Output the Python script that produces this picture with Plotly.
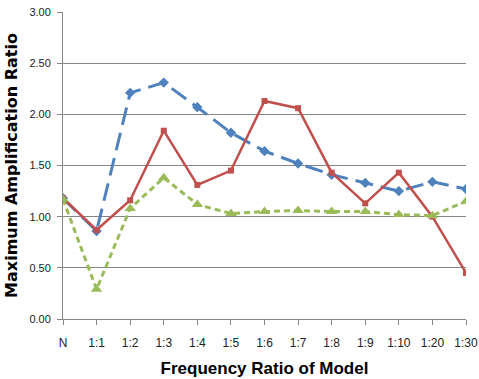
import plotly.graph_objects as go

categories = ["N", "1:1", "1:2", "1:3", "1:4", "1:5", "1:6", "1:7", "1:8", "1:9", "1:10", "1:20", "1:30"]
blue_vals = [1.18, 0.86, 2.21, 2.31, 2.07, 1.82, 1.64, 1.52, 1.41, 1.33, 1.25, 1.34, 1.27]
red_vals = [1.18, 0.87, 1.16, 1.84, 1.31, 1.45, 2.13, 2.06, 1.43, 1.13, 1.43, 1.00, 0.45]
green_vals = [1.17, 0.29, 1.08, 1.38, 1.12, 1.03, 1.05, 1.06, 1.05, 1.05, 1.02, 1.01, 1.15]
y_ticks = [0, 0.5, 1.0, 1.5, 2.0, 2.5, 3.0]

fig = go.Figure()
fig.add_trace(go.Scatter(x=categories, y=blue_vals, mode="lines+markers",
                         line=dict(color="#4F81BD", width=3, dash="18px,8px"),
                         marker=dict(symbol="diamond", size=8, color="#4F81BD")))
fig.add_trace(go.Scatter(x=categories, y=red_vals, mode="lines+markers",
                         line=dict(color="#C0504D", width=2.5),
                         marker=dict(symbol="square", size=6, color="#C0504D")))
fig.add_trace(go.Scatter(x=categories, y=green_vals, mode="lines+markers",
                         line=dict(color="#9BBB59", width=3, dash="6px,4px"),
                         marker=dict(symbol="triangle-up", size=10, color="#9BBB59")))

fig.update_layout(
    width=479, height=379,
    margin=dict(l=63, r=13, t=12, b=60),
    paper_bgcolor="white", plot_bgcolor="white",
    showlegend=False,
    font=dict(family="Liberation Sans, Arial", size=11, color="#222222"),
    xaxis=dict(
        type="category", range=[0, 12], automargin=False,
        showline=True, linecolor="#868686", linewidth=1,
        ticks="outside", ticklen=5, tickcolor="#868686",
        ticklabelstandoff=8,
        showgrid=False, tickfont=dict(size=12),
        title=dict(text="<b>Frequency Ratio of Model</b>", font=dict(size=17, color="black"), standoff=12),
    ),
    yaxis=dict(
        range=[0, 3.0], tickvals=y_ticks, tickformat=".2f", automargin=False,
        showline=True, linecolor="#868686", linewidth=1,
        ticks="outside", ticklen=5, tickcolor="#868686",
        ticklabelstandoff=4,
        showgrid=True, gridcolor="#868686", gridwidth=1,
        zeroline=False, tickfont=dict(size=11),
        title=dict(text="<b>Maximum Amplification Ratio</b>",
                   font=dict(family="DejaVu Sans", size=16, color="black"), standoff=7),
    ),
)

fig.write_html("out.html")
